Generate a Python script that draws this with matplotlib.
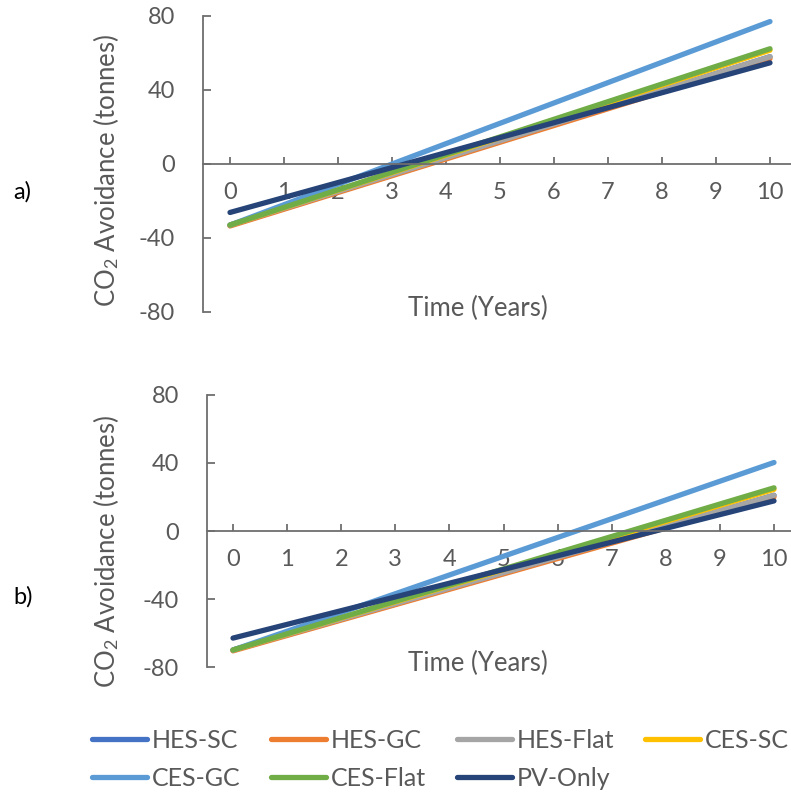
import matplotlib
matplotlib.use("Agg")
import matplotlib.pyplot as plt

# years on the category axis, and the two end points of each series
years = [0, 10]
tick_years = list(range(0, 11))
series_names = ["HES-SC", "HES-GC", "HES-Flat", "CES-SC", "CES-GC", "CES-Flat", "PV-Only"]
colors = ["#4472C4", "#ED7D31", "#A5A5A5", "#FFC000", "#5B9BD5", "#70AD47", "#264478"]

# panel a) CO2 avoidance (tonnes) at year 0 and year 10
a_hes_sc = [-33, 58]
a_hes_gc = [-33.5, 57]
a_hes_flat = [-33, 58]
a_ces_sc = [-33, 61.5]
a_ces_gc = [-33, 77]
a_ces_flat = [-33, 62.3]
a_pv_only = [-26.2, 54.7]

# panel b)
b_hes_sc = [-70, 21]
b_hes_gc = [-70.5, 20]
b_hes_flat = [-70, 21]
b_ces_sc = [-70, 24.5]
b_ces_gc = [-70, 40.3]
b_ces_flat = [-70, 25.4]
b_pv_only = [-63, 17.7]

y_ticks = [-80, -40, 0, 40, 80]

plt.rcParams['font.family'] = ['Lato', 'DejaVu Sans']
plt.rcParams['mathtext.fontset'] = 'custom'
plt.rcParams['mathtext.rm'] = 'Lato'
plt.rcParams['mathtext.it'] = 'Lato:italic'
plt.rcParams['axes.unicode_minus'] = False

txt = '#595959'
axc = '#6E6E6E'

W, H = 791.0, 794.0
fig = plt.figure(figsize=(W / 100, H / 100), dpi=100)
fig.patch.set_facecolor('white')

# plot areas in pixels: left spine x, top(80) y, bottom(-80) y, x of year 0 and year 10
def make_axes(spine_x, top_y, bot_y, x0, x10):
    ax = fig.add_axes([spine_x / W, 1 - bot_y / H, (W - spine_x) / W, (bot_y - top_y) / H])
    per = (x10 - x0) / 10.0
    ax.set_xlim(-(x0 - spine_x) / per, 10 + (W - x10) / per)
    return ax

ax_a = make_axes(203, 16, 312, 230, 770)
ax_b = make_axes(207, 395, 667, 233, 774)

panels = [
    (ax_a, [a_hes_sc, a_hes_gc, a_hes_flat, a_ces_sc, a_ces_gc, a_ces_flat, a_pv_only],
     (106, 170), (478, 308), 'a)', 192),
    (ax_b, [b_hes_sc, b_hes_gc, b_hes_flat, b_ces_sc, b_ces_gc, b_ces_flat, b_pv_only],
     (106, 551), (478, 663), 'b)', 597),
]

for ax, data, ylab_xy, xlab_xy, tag, tag_y in panels:
    for name, col, vals in zip(series_names, colors, data):
        ax.plot(years, vals, color=col, lw=3.8, solid_capstyle='round', label=name)
    ax.set_ylim(-80, 80)
    ax.set_yticks(y_ticks)
    ax.set_xticks(tick_years)
    ax.spines['right'].set_visible(False)
    ax.spines['top'].set_visible(False)
    ax.spines['bottom'].set_position(('data', 0))
    for s in ('left', 'bottom'):
        ax.spines[s].set_color(axc)
        ax.spines[s].set_linewidth(1.3)
    ax.tick_params(axis='y', direction='in', length=6, width=1.3, color=axc,
                   labelcolor=txt, labelsize=17, pad=20)
    ax.tick_params(axis='x', direction='in', length=5, width=1.3, color=axc,
                   labelcolor=txt, labelsize=17, pad=13)
    ax.set_ylabel('CO$_2$ Avoidance (tonnes)', fontsize=18.5, color=txt, va='center')
    ax.yaxis.set_label_coords(ylab_xy[0] / W, 1 - ylab_xy[1] / H, transform=fig.transFigure)
    ax.set_xlabel('Time (Years)', fontsize=18.5, color=txt, va='center')
    ax.xaxis.set_label_coords(xlab_xy[0] / W, 1 - xlab_xy[1] / H, transform=fig.transFigure)
    ax.set_facecolor('none')
    fig.text(13 / W, 1 - tag_y / H, tag, fontsize=17, color='black', va='center', ha='left')

# legend is filled column by column, so reorder to read row by row
handles, labels = ax_a.get_legend_handles_labels()
order = [0, 4, 1, 5, 2, 6, 3]
leg = fig.legend([handles[i] for i in order], [labels[i] for i in order],
                 ncol=4, loc='upper left', bbox_to_anchor=(92 / W, 1 - 729 / H),
                 borderpad=0, borderaxespad=0, frameon=False,
                 fontsize=18, handlelength=2.2, handletextpad=0.2,
                 columnspacing=1.22, labelspacing=0.6)
for t in leg.get_texts():
    t.set_color(txt)

fig.savefig('out.png', dpi=100, facecolor='white')
